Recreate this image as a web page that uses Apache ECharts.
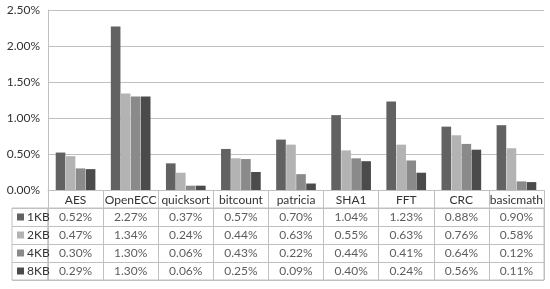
<!DOCTYPE html>
<html>
<head>
<meta charset="utf-8">
<script src="https://cdn.jsdelivr.net/npm/echarts@6/dist/echarts.min.js"></script>
<style>
  html, body { margin: 0; padding: 0; background: #fff; }
  #main { width: 550px; height: 289px; }
</style>
</head>
<body>
<div id="main"></div>
<script>
var categories = ['AES', 'OpenECC', 'quicksort', 'bitcount', 'patricia', 'SHA1', 'FFT', 'CRC', 'basicmath'];
var seriesNames = ['1KB', '2KB', '4KB', '8KB'];
var kb1 = [0.52, 2.27, 0.37, 0.57, 0.70, 1.04, 1.23, 0.88, 0.90];
var kb2 = [0.47, 1.34, 0.24, 0.44, 0.63, 0.55, 0.63, 0.76, 0.58];
var kb4 = [0.30, 1.30, 0.06, 0.43, 0.22, 0.44, 0.41, 0.64, 0.12];
var kb8 = [0.29, 1.30, 0.06, 0.25, 0.09, 0.40, 0.24, 0.56, 0.11];
var seriesValues = [kb1, kb2, kb4, kb8];

var colors = ['#626262', '#b3b3b3', '#8a8a8a', '#4b4b4b'];
var lineColor = '#c0c0c0';
var textColor = '#333';
var font = 'Lato, "Liberation Sans", sans-serif';

var myChart = echarts.init(document.getElementById('main'));

// table cells: [column, row, value]
var cellData = [];
for (var r = 0; r < seriesValues.length; r++) {
	for (var c = 0; c < categories.length; c++) {
		cellData.push([c, r, seriesValues[r][c]]);
	}
}

// rich styles for legend keys in the row labels
var rich = { t: { color: textColor, fontSize: 12, fontFamily: font, padding: [0, 0, 0, 3] } };
for (var i = 0; i < colors.length; i++) {
	rich['s' + i] = { width: 7, height: 7, backgroundColor: colors[i] };
}

var series = [];
for (var k = 0; k < seriesNames.length; k++) {
	series.push({
		name: seriesNames[k],
		type: 'bar',
		xAxisIndex: 0,
		yAxisIndex: 0,
		barGap: '4%',
		barCategoryGap: '28%',
		itemStyle: { color: colors[k] },
		data: seriesValues[k]
	});
}
series.push({
	type: 'scatter',
	xAxisIndex: 1,
	yAxisIndex: 1,
	symbolSize: 0,
	silent: true,
	label: {
		show: true,
		position: 'inside',
		color: textColor,
		fontSize: 12,
		fontFamily: font,
		formatter: function (p) { return p.value[2].toFixed(2) + '%'; }
	},
	data: cellData
});

option = {
	animation: false,
	backgroundColor: '#fff',
	grid: [
		{ left: 48, right: 6, top: 10, height: 180 },
		{ left: 48, right: 6, top: 208, height: 72, show: true, borderColor: lineColor, borderWidth: 1 },
		{ left: 12, width: 36, top: 208, height: 72, show: true, borderColor: lineColor, borderWidth: 1 }
	],
	xAxis: [
		{
			type: 'category',
			gridIndex: 0,
			data: categories,
			axisLine: { lineStyle: { color: lineColor } },
			axisTick: { show: true, length: 18, lineStyle: { color: lineColor } },
			axisLabel: { color: textColor, fontSize: 12, fontFamily: font, margin: 4, interval: 0 }
		},
		{
			type: 'category',
			gridIndex: 1,
			data: categories,
			axisLine: { show: false },
			axisTick: { show: false },
			axisLabel: { show: false },
			splitLine: { show: true, interval: 0, lineStyle: { color: lineColor } }
		},
		{
			type: 'category',
			gridIndex: 2,
			data: [''],
			show: false
		}
	],
	yAxis: [
		{
			type: 'value',
			gridIndex: 0,
			min: 0,
			max: 2.5,
			interval: 0.5,
			axisLine: { show: true, lineStyle: { color: lineColor } },
			axisTick: { show: false },
			axisLabel: {
				color: textColor, fontSize: 12, fontFamily: font, margin: 8,
				formatter: function (v) { return v.toFixed(2) + '%'; }
			},
			splitLine: { lineStyle: { color: lineColor } }
		},
		{
			type: 'category',
			gridIndex: 1,
			inverse: true,
			data: seriesNames,
			axisLine: { show: false },
			axisTick: { show: false },
			axisLabel: { show: false },
			splitLine: { show: true, interval: 0, lineStyle: { color: lineColor } }
		},
		{
			type: 'category',
			gridIndex: 2,
			inverse: true,
			data: seriesNames,
			axisLine: { show: false },
			axisTick: { show: false },
			splitLine: { show: true, interval: 0, lineStyle: { color: lineColor } },
			axisLabel: {
				inside: true,
				margin: 5,
				align: 'left',
				rich: rich,
				formatter: function (v, idx) { return '{s' + idx + '|}{t|' + v + '}'; }
			}
		}
	],
	series: series
};

myChart.setOption(option);
</script>
</body>
</html>
